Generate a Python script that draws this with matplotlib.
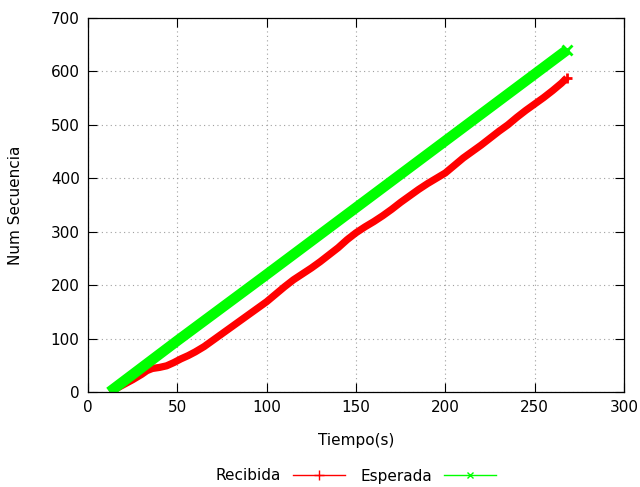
import matplotlib
matplotlib.use("Agg")
import matplotlib.pyplot as plt
from matplotlib.lines import Line2D

# Received sequence numbers over time
recibida_t = [12, 15, 20, 25, 30, 33, 36, 40, 44, 48, 52, 56, 60, 65, 70, 75, 80, 85,
              90, 95, 100, 105, 110, 115, 120, 125, 130, 135, 140, 145, 150, 155, 160,
              165, 170, 175, 180, 185, 190, 195, 200, 205, 210, 215, 220, 225, 230, 235,
              240, 245, 250, 255, 260, 265, 268]
recibida_seq = [0, 5, 14, 23, 33, 40, 44, 46, 49, 55, 62, 68, 75, 85, 97, 109, 121, 133,
                145, 157, 169, 183, 197, 210, 221, 232, 244, 257, 270, 285, 298, 309, 319,
                330, 342, 355, 367, 379, 390, 400, 410, 424, 438, 450, 462, 475, 488, 500,
                514, 527, 539, 551, 564, 578, 588]

# Expected sequence numbers over time
esperada_t = [12, 50, 100, 150, 200, 250, 268]
esperada_seq = [0, 96, 220, 345, 470, 595, 640]

x_ticks = [0, 50, 100, 150, 200, 250, 300]
y_ticks = [0, 100, 200, 300, 400, 500, 600, 700]

RED = "#ff0000"
GREEN = "#00ff00"

fig = plt.figure(figsize=(6.4, 4.87), dpi=100)
ax = fig.add_axes([88 / 640, 1 - 392 / 487, (624 - 88) / 640, (392 - 18) / 487])

ax.plot(recibida_t, recibida_seq, color=RED, lw=5.2, solid_capstyle="butt",
        solid_joinstyle="round", zorder=3)
ax.plot(recibida_t[-1:], recibida_seq[-1:], color=RED, marker="+", markersize=7,
        markeredgewidth=2, linestyle="none", zorder=3)
ax.plot(esperada_t, esperada_seq, color=GREEN, lw=7.6, solid_capstyle="butt",
        solid_joinstyle="round", zorder=4)
ax.plot(esperada_t[-1:], esperada_seq[-1:], color=GREEN, marker="x", markersize=7,
        markeredgewidth=2, linestyle="none", zorder=4)

ax.set_xlim(0, 300)
ax.set_ylim(0, 700)
ax.set_xticks(x_ticks)
ax.set_yticks(y_ticks)
ax.tick_params(direction="in", length=6.5, width=0.8, top=True, right=True,
               labelsize=11, colors="black", pad=6)
ax.grid(True, color="#a0a0a0", linestyle=(0, (1, 3)), linewidth=0.8)
ax.set_axisbelow(True)
for sp in ax.spines.values():
    sp.set_linewidth(0.9)
    sp.set_zorder(5)

ax.set_xlabel("Tiempo(s)", fontsize=11, labelpad=13)
ax.set_ylabel("Num Secuencia", fontsize=11, labelpad=20)

handles = [
    Line2D([], [], color=RED, lw=1.0, marker="+", markersize=7, markeredgewidth=1.0),
    Line2D([], [], color=GREEN, lw=1.0, marker="x", markersize=5, markeredgewidth=1.0),
]
fig.legend(handles, ["Recibida", "Esperada"], loc="center",
           bbox_to_anchor=(356 / 640, 1 - 476 / 487), ncol=2, frameon=False,
           markerfirst=False, fontsize=11, handlelength=3.4, handletextpad=0.8,
           columnspacing=1.0, numpoints=1)

fig.savefig("out.png", dpi=100)
